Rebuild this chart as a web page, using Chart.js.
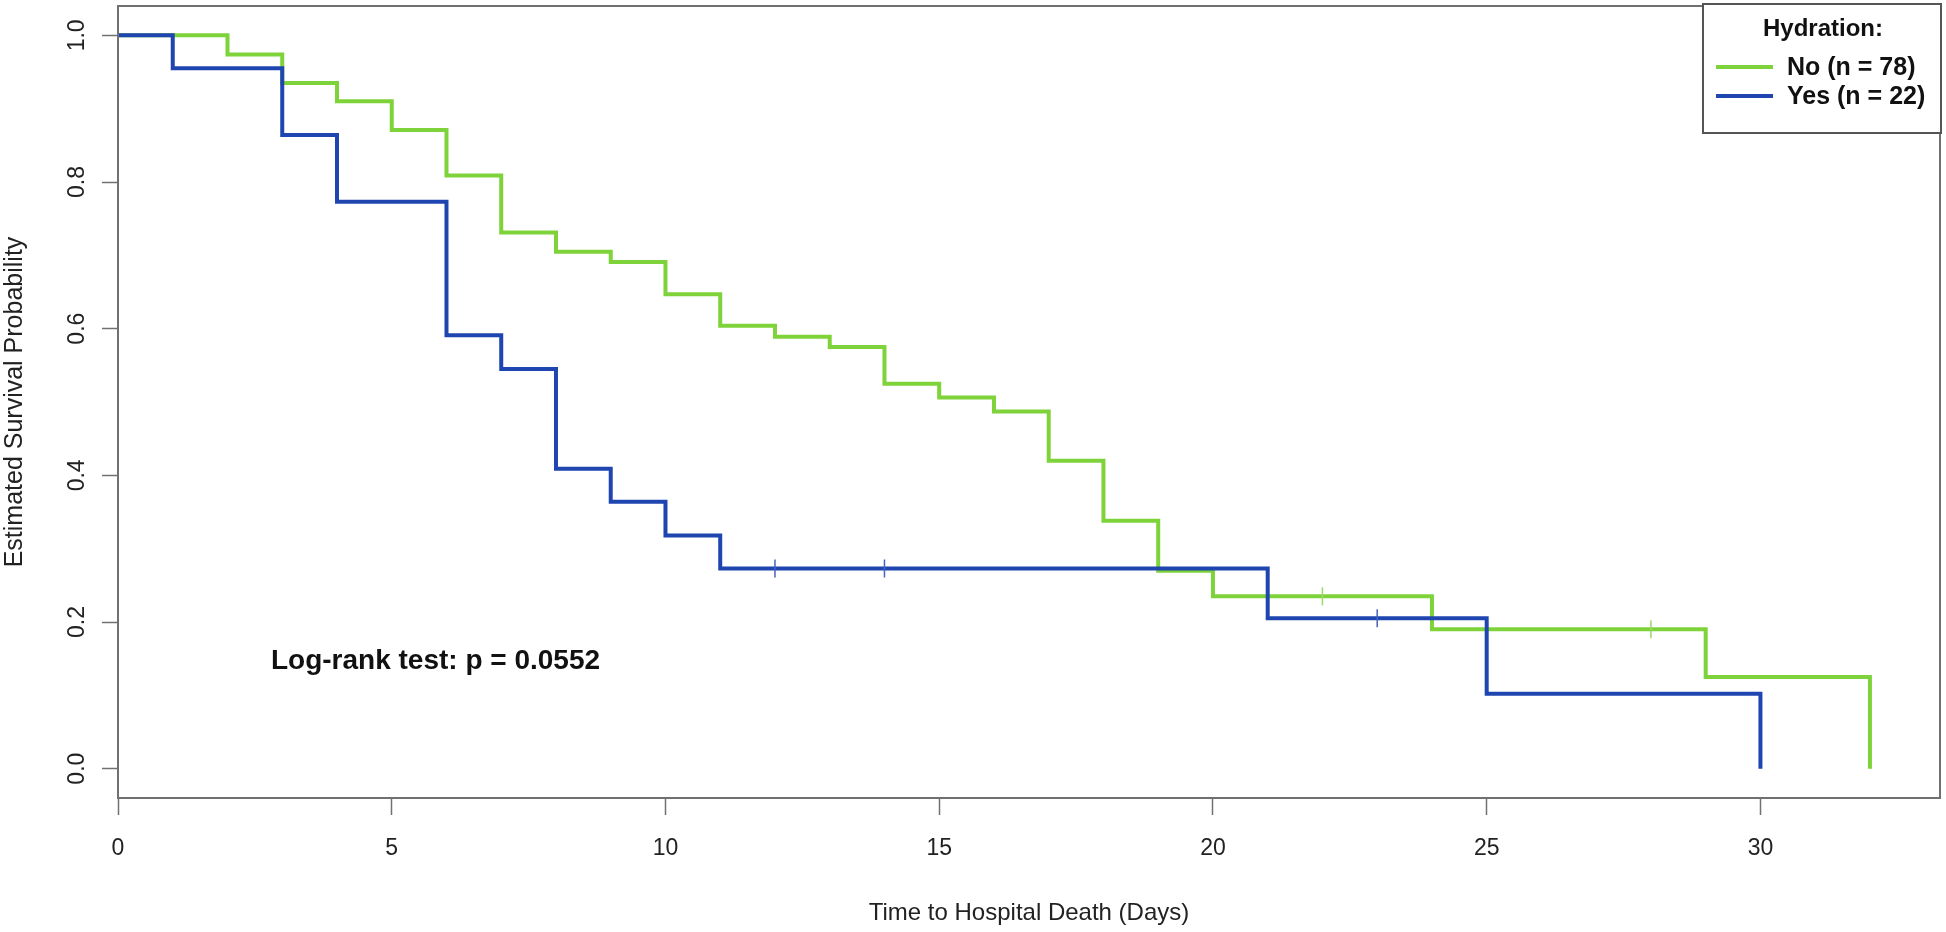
<!DOCTYPE html>
<html>
<head>
<meta charset="utf-8">
<title>Kaplan-Meier: Hydration</title>
<script src="https://cdn.jsdelivr.net/npm/chart.js@4.4.1/dist/chart.umd.min.js"></script>
<style>
  html, body { margin: 0; padding: 0; background: #fff; }
  #wrap { width: 1946px; height: 932px; }
</style>
</head>
<body>
<div id="wrap"><canvas id="kmChart"></canvas></div>
<script>
// Kaplan-Meier step points: time (days) and estimated survival
const noTimes = [0, 2, 3, 4, 5, 6, 7, 8, 9, 10, 11, 12, 13, 14, 15, 16, 17, 18, 19, 20, 24, 29, 32];
const noSurv = [1.0, 0.974, 0.935, 0.910, 0.871, 0.809, 0.731, 0.705, 0.691, 0.647, 0.604, 0.589, 0.575,
  0.525, 0.506, 0.487, 0.420, 0.338, 0.270, 0.235, 0.190, 0.125, 0.0];
const yesTimes = [0, 1, 3, 4, 6, 7, 8, 9, 10, 11, 21, 25, 30];
const yesSurv = [1.0, 0.955, 0.864, 0.773, 0.591, 0.545, 0.409, 0.364, 0.318, 0.273, 0.205, 0.102, 0.0];

// censored observations (days)
const noCensored = [22, 28];
const yesCensored = [12, 14, 23];

const groupLabels = ["No (n = 78)", "Yes (n = 22)"];
const legendTitle = "Hydration:";
const xTicks = [0, 5, 10, 15, 20, 25, 30];
const yTicks = [0, 0.2, 0.4, 0.6, 0.8, 1.0];
const pValueText = "Log-rank test: p = 0.0552";

const GREEN = "#7ed23a";
const BLUE = "#1f45b0";
const AXIS = "#707070";
const FONT = "'Liberation Sans', Arial, sans-serif";

function survAt(times, surv, t) {
  let s = surv[0];
  for (let i = 0; i < times.length; i++) {
    if (times[i] <= t) s = surv[i];
  }
  return s;
}

const toPoints = (times, surv) => times.map((t, i) => ({ x: t, y: surv[i] }));
const censorPoints = (cens, times, surv) => cens.map(t => ({ x: t, y: survAt(times, surv, t) }));

// box, rotated y labels, legend and p-value text
const extras = {
  id: "extras",
  afterDraw(chart) {
    const ctx = chart.ctx;
    const a = chart.chartArea;
    const xs = chart.scales.x, ys = chart.scales.y;
    ctx.save();

    // plot frame
    ctx.strokeStyle = AXIS;
    ctx.lineWidth = 2;
    ctx.strokeRect(a.left, a.top, a.right - a.left, a.bottom - a.top);

    // y tick labels, rotated like R
    ctx.fillStyle = "#222";
    ctx.font = "23px " + FONT;
    ctx.textAlign = "center";
    ctx.textBaseline = "middle";
    yTicks.forEach(v => {
      const py = ys.getPixelForValue(v);
      ctx.save();
      ctx.translate(a.left - 40, py);
      ctx.rotate(-Math.PI / 2);
      ctx.fillText(v.toFixed(1), 0, 0);
      ctx.restore();
    });

    // p-value annotation
    ctx.font = "bold 28px " + FONT;
    ctx.fillStyle = "#111";
    ctx.fillText(pValueText, xs.getPixelForValue(5.8), ys.getPixelForValue(0.146));

    // legend
    const bw = 238, bh = 129;
    const bx = a.right - bw + 1, by = a.top - 2;
    ctx.fillStyle = "#fff";
    ctx.fillRect(bx, by, bw, bh);
    ctx.strokeStyle = "#555";
    ctx.lineWidth = 2;
    ctx.strokeRect(bx, by, bw, bh);
    ctx.fillStyle = "#111";
    ctx.font = "bold 24px " + FONT;
    ctx.textAlign = "center";
    ctx.fillText(legendTitle, bx + bw / 2 + 1, by + 25);
    const colors = [GREEN, BLUE];
    ctx.textAlign = "left";
    ctx.font = "bold 25px " + FONT;
    groupLabels.forEach((lab, i) => {
      const ly = by + 63 + i * 29;
      ctx.strokeStyle = colors[i];
      ctx.lineWidth = 4;
      ctx.beginPath();
      ctx.moveTo(bx + 13, ly);
      ctx.lineTo(bx + 70, ly);
      ctx.stroke();
      ctx.fillText(lab, bx + 84, ly + 1);
    });

    ctx.restore();
  }
};

const config = {
  type: "line",
  data: {
    datasets: [
      {
        label: groupLabels[0],
        data: toPoints(noTimes, noSurv),
        borderColor: GREEN,
        borderWidth: 4,
        stepped: true,
        pointRadius: 0,
        borderJoinStyle: "miter",
        order: 3
      },
      {
        label: groupLabels[1],
        data: toPoints(yesTimes, yesSurv),
        borderColor: BLUE,
        borderWidth: 4,
        stepped: true,
        pointRadius: 0,
        borderJoinStyle: "miter",
        order: 1
      },
      {
        label: "No censored",
        data: censorPoints(noCensored, noTimes, noSurv),
        showLine: false,
        pointStyle: "line",
        rotation: 90,
        pointRadius: 9,
        pointBorderWidth: 1.5,
        pointBorderColor: "#9ad86a",
        order: 2
      },
      {
        label: "Yes censored",
        data: censorPoints(yesCensored, yesTimes, yesSurv),
        showLine: false,
        pointStyle: "line",
        rotation: 90,
        pointRadius: 9,
        pointBorderWidth: 1.5,
        pointBorderColor: "#4563c0",
        order: 0
      }
    ]
  },
  options: {
    responsive: true,
    maintainAspectRatio: false,
    animation: false,
    layout: { autoPadding: false, padding: { top: 6, right: 6, left: 0, bottom: 0 } },
    plugins: {
      legend: { display: false },
      tooltip: { enabled: false }
    },
    scales: {
      x: {
        type: "linear",
        min: 0,
        max: 33.28,
        border: { display: false },
        grid: {
          drawOnChartArea: false,
          drawTicks: true,
          tickLength: 17,
          tickColor: AXIS,
          tickWidth: 1.5
        },
        ticks: {
          color: "#222",
          font: { family: FONT, size: 23 },
          padding: 20,
          maxRotation: 0
        },
        afterBuildTicks: scale => { scale.ticks = xTicks.map(v => ({ value: v })); },
        afterFit: scale => { scale.height = 134; },
        title: {
          display: true,
          text: "Time to Hospital Death (Days)",
          color: "#222",
          font: { family: FONT, size: 24 },
          padding: { top: 0, bottom: 4 }
        }
      },
      y: {
        type: "linear",
        min: -0.04,
        max: 1.04,
        border: { display: false },
        grid: {
          drawOnChartArea: false,
          drawTicks: true,
          tickLength: 16,
          tickColor: AXIS,
          tickWidth: 1.5
        },
        ticks: { display: false },
        afterBuildTicks: scale => { scale.ticks = yTicks.map(v => ({ value: v })); },
        afterFit: scale => { scale.width = 118; },
        title: {
          display: true,
          text: "Estimated Survival Probability",
          color: "#222",
          font: { family: FONT, size: 25 },
          padding: { top: 0, bottom: 0 }
        }
      }
    }
  },
  plugins: [extras]
};

new Chart(document.getElementById("kmChart"), config);
</script>
</body>
</html>
